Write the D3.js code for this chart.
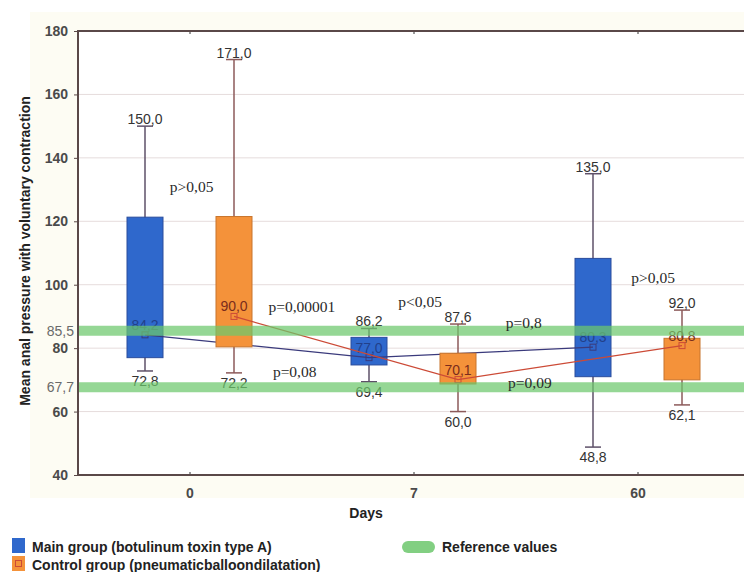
<!DOCTYPE html>
<meta charset="utf-8">
<script src="https://d3js.org/d3.v7.min.js"></script>
<style>
  body { margin: 0; background: #fff; }
  text { font-family: "Liberation Sans", Arial, sans-serif; }
</style>
<div id="my_dataviz"></div>
<script>

// data
var days = ["0", "7", "60"];

var mainMin     = [72.8, 69.4, 48.8];
var mainBoxLow  = [77.0, 74.7, 71.0];
var mainMean    = [84.2, 77.0, 80.3];
var mainBoxHigh = [121.3, 83.4, 108.3];
var mainMax     = [150.0, 86.2, 135.0];

var ctrlMin     = [72.2, 60.0, 62.1];
var ctrlBoxLow  = [80.4, 68.7, 70.0];
var ctrlMean    = [90.0, 70.1, 80.8];
var ctrlBoxHigh = [121.5, 78.4, 83.1];
var ctrlMax     = [171.0, 87.6, 92.0];

var refValues = [85.5, 67.7];
var refLabels = ["85,5", "67,7"];
var yTicks = [40, 60, 80, 100, 120, 140, 160, 180];

// p-value notes: text, position along days (index), value
var pText  = ["p>0,05", "p=0,00001", "p=0,08", "p<0,05", "p=0,8", "p=0,09", "p>0,05"];
var pDay   = [-0.09, 0.35, 0.37, 0.93, 1.41, 1.42, 1.97];
var pValue = [129.2, 91.4, 70.9, 93.0, 86.3, 67.4, 100.5];

var W = 744, H = 572;
var margin = {top: 31, left: 78, bottom: 97};
var plotRight = 750;

var svg = d3.select("#my_dataviz").append("svg")
  .attr("width", W).attr("height", H);

// cream panel
svg.append("rect").attr("x", 30).attr("y", 12).attr("width", W - 30).attr("height", 486)
  .attr("fill", "#fdfcf3");

var x = d3.scaleBand().domain(days).range([margin.left, plotRight]).padding(0);
var y = d3.scaleLinear().domain([40, 180]).range([H - margin.bottom, margin.top]);
var xi = d3.scaleLinear().domain([0, 2])
  .range([x("0") + x.bandwidth() / 2, x("60") + x.bandwidth() / 2]);

svg.append("rect").attr("x", margin.left).attr("y", margin.top)
  .attr("width", plotRight - margin.left).attr("height", y(40) - margin.top)
  .attr("fill", "#fff");

// grid
svg.append("g").selectAll("line").data(yTicks.filter(d => d > 40 && d < 180)).enter()
  .append("line")
  .attr("x1", margin.left).attr("x2", plotRight)
  .attr("y1", d => y(d)).attr("y2", d => y(d))
  .attr("stroke", "#e6dcdc").attr("stroke-width", 1);

// axes
var yAxis = svg.append("g").attr("transform", "translate(" + margin.left + ",0)")
  .call(d3.axisLeft(y).tickValues(yTicks).tickSize(4).tickPadding(6).tickFormat(d3.format("d")));
yAxis.select(".domain").remove();
yAxis.selectAll("line").attr("stroke", "#5a4848");
yAxis.selectAll("text").attr("font-size", 14).attr("font-weight", "bold").attr("fill", "#4a4a4a");

var xAxis = svg.append("g").attr("transform", "translate(0," + y(40) + ")")
  .call(d3.axisBottom(x).tickSize(-3).tickPadding(13));
xAxis.select(".domain").remove();
xAxis.selectAll("line").attr("stroke", "#333");
xAxis.selectAll("text").attr("font-size", 14).attr("font-weight", "bold").attr("fill", "#4a4a4a");

svg.append("g").attr("transform", "translate(0," + margin.top + ")")
  .call(d3.axisTop(x).tickSize(-3).tickFormat(""))
  .call(g => g.select(".domain").remove())
  .selectAll("line").attr("stroke", "#333");

// frame
svg.append("path")
  .attr("d", "M" + plotRight + "," + margin.top + "H" + margin.left + "V" + y(40) + "H" + plotRight)
  .attr("fill", "none").attr("stroke", "#5a4848").attr("stroke-width", 2);

// reference labels on the axis
svg.append("g").selectAll("text").data(refValues).enter().append("text")
  .attr("x", margin.left - 4).attr("y", d => y(d) + 5)
  .attr("text-anchor", "end").attr("font-size", 14).attr("fill", "#6a6a6a")
  .text((d, i) => refLabels[i]);

var fmt = d => d.toFixed(1).replace(".", ",");

function drawGroup(offset, lo, q1, mean, q3, hi, fill, stroke, whisker, lineColor, meanText) {
  var cx = d => x(d) + x.bandwidth() / 2 + offset;
  var g = svg.append("g");
  var rows = days.map((d, i) => ({day: d, lo: lo[i], q1: q1[i], mean: mean[i], q3: q3[i], hi: hi[i]}));

  // whiskers
  g.selectAll(".wh").data(rows).enter().append("line")
    .attr("x1", d => cx(d.day)).attr("x2", d => cx(d.day))
    .attr("y1", d => y(d.hi)).attr("y2", d => y(d.lo))
    .attr("stroke", whisker).attr("stroke-width", 1.5);
  g.selectAll(".capHi").data(rows).enter().append("line")
    .attr("x1", d => cx(d.day) - 8).attr("x2", d => cx(d.day) + 8)
    .attr("y1", d => y(d.hi)).attr("y2", d => y(d.hi))
    .attr("stroke", whisker).attr("stroke-width", 1.5);
  g.selectAll(".capLo").data(rows).enter().append("line")
    .attr("x1", d => cx(d.day) - 8).attr("x2", d => cx(d.day) + 8)
    .attr("y1", d => y(d.lo)).attr("y2", d => y(d.lo))
    .attr("stroke", whisker).attr("stroke-width", 1.5);

  // boxes
  g.selectAll("rect").data(rows).enter().append("rect")
    .attr("x", d => cx(d.day) - 18).attr("width", 36)
    .attr("y", d => y(d.q3)).attr("height", d => y(d.q1) - y(d.q3))
    .attr("fill", fill).attr("stroke", stroke).attr("stroke-width", 1);

  // mean line
  g.append("path").datum(rows)
    .attr("fill", "none").attr("stroke", lineColor).attr("stroke-width", 1.3)
    .attr("d", d3.line().x(d => cx(d.day)).y(d => y(d.mean)));

  g.selectAll(".mk").data(rows).enter().append("rect")
    .attr("x", d => cx(d.day) - 3).attr("y", d => y(d.mean) - 3)
    .attr("width", 6).attr("height", 6)
    .attr("fill", "none").attr("stroke", lineColor).attr("stroke-width", 1);

  // labels
  g.selectAll(".tHi").data(rows).enter().append("text")
    .attr("x", d => cx(d.day)).attr("y", d => y(d.hi) - 2)
    .attr("text-anchor", "middle").attr("font-size", 14).attr("fill", "#333")
    .text(d => fmt(d.hi));
  g.selectAll(".tLo").data(rows).enter().append("text")
    .attr("x", d => cx(d.day)).attr("y", d => y(d.lo) + 15)
    .attr("text-anchor", "middle").attr("font-size", 14).attr("fill", "#333")
    .text(d => fmt(d.lo));
  g.selectAll(".tMean").data(rows).enter().append("text")
    .attr("x", d => cx(d.day)).attr("y", d => y(d.mean) - 5)
    .attr("text-anchor", "middle").attr("font-size", 14).attr("fill", meanText)
    .text(d => fmt(d.mean));
}

drawGroup(-45, mainMin, mainBoxLow, mainMean, mainBoxHigh, mainMax,
  "#2f68cc", "#2a4c9c", "#5e5068", "#3a3a7c", "#22408a");
drawGroup(44, ctrlMin, ctrlBoxLow, ctrlMean, ctrlBoxHigh, ctrlMax,
  "#f4923a", "#c8742c", "#8c5a5a", "#cc4a36", "#7a2c1c");

// reference bands on top
svg.append("g").selectAll("line").data(refValues).enter().append("line")
  .attr("x1", margin.left + 1).attr("x2", plotRight)
  .attr("y1", d => y(d)).attr("y2", d => y(d))
  .attr("stroke", "#6cc76c").attr("stroke-opacity", 0.72).attr("stroke-width", 10);

// p-values
svg.append("g").selectAll("text").data(pText).enter().append("text")
  .attr("x", (d, i) => xi(pDay[i])).attr("y", (d, i) => y(pValue[i]))
  .style("font-family", "'Liberation Serif', 'Times New Roman', serif")
  .attr("font-size", 15.5).attr("fill", "#2a2a2a")
  .text(d => d);

// axis titles
svg.append("text")
  .attr("transform", "translate(30,251) rotate(-90)")
  .attr("text-anchor", "middle").attr("font-size", 14).attr("font-weight", "bold").attr("fill", "#222")
  .text("Mean anal pressure with voluntary contraction");
svg.append("text").attr("x", 366).attr("y", 518)
  .attr("text-anchor", "middle").attr("font-size", 14).attr("font-weight", "bold").attr("fill", "#222")
  .text("Days");

// legend
var legend = svg.append("g");
legend.append("rect").attr("x", 12).attr("y", 538).attr("width", 13).attr("height", 15).attr("fill", "#2f68cc");
legend.append("rect").attr("x", 12).attr("y", 556).attr("width", 13).attr("height", 15).attr("fill", "#f4923a");
legend.append("rect").attr("x", 15.5).attr("y", 560.5).attr("width", 6).attr("height", 6)
  .attr("fill", "none").attr("stroke", "#cc4a36");
legend.append("text").attr("x", 32).attr("y", 552).attr("font-size", 14).attr("font-weight", "bold").attr("fill", "#222")
  .text("Main group (botulinum toxin type A)");
legend.append("text").attr("x", 32).attr("y", 570).attr("font-size", 14).attr("font-weight", "bold").attr("fill", "#222")
  .text("Control group (pneumaticballoondilatation)");
legend.append("rect").attr("x", 402).attr("y", 541).attr("width", 33).attr("height", 12).attr("rx", 6)
  .attr("fill", "#6cc76c").attr("fill-opacity", 0.85);
legend.append("text").attr("x", 442).attr("y", 552).attr("font-size", 14).attr("font-weight", "bold").attr("fill", "#222")
  .text("Reference values");

</script>
